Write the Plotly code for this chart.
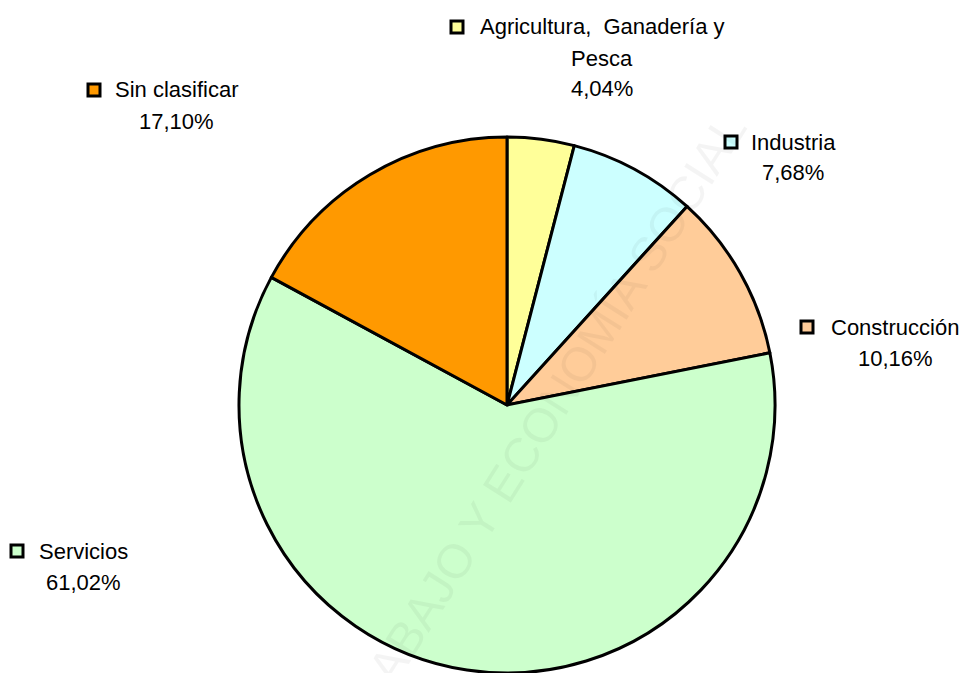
import plotly.graph_objects as go

# ---- data ----
categories = ["Agricultura, Ganadería y Pesca", "Industria", "Construcción", "Servicios", "Sin clasificar"]
values = [4.04, 7.68, 10.16, 61.02, 17.10]
label_lines = [
    ["Agricultura,  Ganadería y", "Pesca"],
    ["Industria"],
    ["Construcción"],
    ["Servicios"],
    ["Sin clasificar"],
]
watermark_text = "MINISTERIO DE TRABAJO Y ECONOMÍA SOCIAL"

# ---- styling / layout ----
W, H = 962, 673
colors = ["#FFFF99", "#CCFFFF", "#FFCC99", "#CCFFCC", "#FF9900"]
# label block placement (pixel coords): text centre x, first line y, marker centre x
label_pos = [
    (602, 27, 457),
    (793, 142, 731),
    (895, 327, 807),
    (83, 551, 17),
    (176, 90, 94),
]
line_gap = 31
FONT = "Liberation Sans, Arial, sans-serif"
FS = 22

def px(x):
    return x / W

def py(y):
    return 1 - y / H

cx, cy, r = 507, 405, 268

fig = go.Figure()
fig.add_trace(go.Pie(
    labels=categories,
    values=values,
    sort=False,
    direction="clockwise",
    rotation=0,
    textinfo="none",
    hoverinfo="label+percent",
    marker=dict(colors=colors, line=dict(color="black", width=3)),
    domain=dict(x=[px(cx - r), px(cx + r)], y=[py(cy + r), py(cy - r)]),
    showlegend=False,
))

annotations = []
shapes = []
for lines, v, col, (tx, ty, mx) in zip(label_lines, values, colors, label_pos):
    all_lines = lines + [f"{v:.2f}".replace(".", ",") + "%"]
    for i, t in enumerate(all_lines):
        annotations.append(dict(
            x=px(tx), y=py(ty + i * line_gap), xref="paper", yref="paper",
            text=t, showarrow=False, xanchor="center", yanchor="middle",
            font=dict(family=FONT, size=FS, color="black"),
        ))
    shapes.append(dict(
        type="rect", xref="paper", yref="paper",
        x0=px(mx - 6), x1=px(mx + 6), y0=py(ty + 6), y1=py(ty - 6),
        fillcolor=col, line=dict(color="black", width=3),
    ))

# faint diagonal watermark (runs off the bottom edge, as in the original)
annotations.append(dict(
    x=px(440), y=py(583), xref="paper", yref="paper",
    text=watermark_text, showarrow=False, textangle=-57.7,
    font=dict(family="Liberation Sans, Arial, sans-serif", size=48, color="rgba(0,0,0,0.045)"),
    xanchor="center", yanchor="middle",
))

fig.update_layout(
    width=W, height=H,
    margin=dict(l=0, r=0, t=0, b=0),
    paper_bgcolor="white", plot_bgcolor="white",
    annotations=annotations, shapes=shapes,
)

fig.write_html(
    "out.html",
    config={"displayModeBar": False},
    post_script="document.body.style.margin='0';document.body.style.overflow='hidden';",
)
